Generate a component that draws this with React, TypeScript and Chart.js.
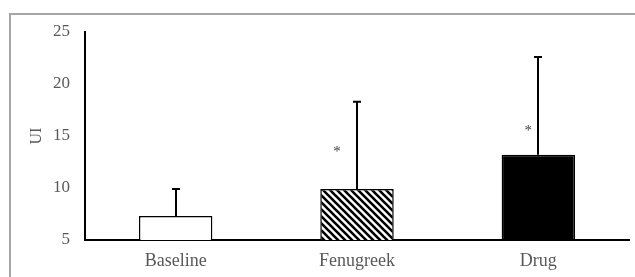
import React, { useEffect, useRef } from "react";
import { Chart, registerables } from "chart.js";

Chart.register(...registerables);

const categories = ["Baseline", "Fenugreek", "Drug"];
const means = [7.3, 9.9, 13.2];
const errors = [2.6, 8.4, 9.4];
const sigMarks = ["", "*", "*"];
const sigValues = [null, 13.6, 15.7];
const yTicks = [5, 10, 15, 20, 25];

function makeHatch(): CanvasPattern | string {
  const s = 7;
  const c = document.createElement("canvas");
  c.width = s;
  c.height = s;
  const g = c.getContext("2d");
  if (!g) return "#000";
  g.fillStyle = "#fff";
  g.fillRect(0, 0, s, s);
  g.strokeStyle = "#000";
  g.lineWidth = 2.6;
  g.beginPath();
  g.moveTo(-1, -1);
  g.lineTo(s + 1, s + 1);
  g.moveTo(-1, s - 1);
  g.lineTo(1, s + 1);
  g.moveTo(s - 1, -1);
  g.lineTo(s + 1, 1);
  g.stroke();
  return g.createPattern(c, "repeat") || "#000";
}

const framePlugin = {
  id: "frame",
  beforeDraw(chart: any) {
    const ctx = chart.ctx;
    ctx.save();
    ctx.strokeStyle = "#a6a6a6";
    ctx.lineWidth = 2;
    ctx.beginPath();
    ctx.moveTo(10, 277);
    ctx.lineTo(10, 14);
    ctx.lineTo(635, 14);
    ctx.stroke();
    ctx.restore();
  },
};

const errorPlugin = {
  id: "errbars",
  afterDatasetsDraw(chart: any) {
    const ctx = chart.ctx;
    const meta = chart.getDatasetMeta(0);
    const y = chart.scales.y;
    ctx.save();
    ctx.strokeStyle = "#000";
    ctx.lineWidth = 2;
    meta.data.forEach((bar: any, i: number) => {
      const top = y.getPixelForValue(means[i] + errors[i]);
      const x = Math.round(bar.x);
      ctx.beginPath();
      ctx.moveTo(x, bar.y);
      ctx.lineTo(x, top);
      ctx.moveTo(x - 4, top);
      ctx.lineTo(x + 4, top);
      ctx.stroke();
    });
    const offsets = [0, -20, -10];
    ctx.fillStyle = "#404040";
    ctx.font = "15px 'Liberation Serif', serif";
    ctx.textAlign = "center";
    ctx.textBaseline = "middle";
    meta.data.forEach((bar: any, i: number) => {
      const v = sigValues[i];
      if (!sigMarks[i] || v == null) return;
      ctx.fillText(sigMarks[i], bar.x + offsets[i], y.getPixelForValue(v) + 2);
    });
    ctx.restore();
  },
};

export default function App() {
  const ref = useRef<HTMLCanvasElement>(null);
  useEffect(() => {
    if (!ref.current) return;
    const hatch = makeHatch();
    const chart = new Chart(ref.current, {
      type: "bar",
      data: {
        labels: categories,
        datasets: [
          {
            data: means,
            base: 5,
            backgroundColor: ["#ffffff", hatch as any, "#000000"],
            borderColor: "#000000",
            borderWidth: 1.5,
            borderSkipped: "bottom",
            categoryPercentage: 1,
            barPercentage: 0.405,
          } as any,
        ],
      },
      options: {
        responsive: false,
        animation: false,
        layout: { padding: { left: 10, right: 6, top: 32, bottom: 0 } },
        plugins: { legend: { display: false }, tooltip: { enabled: false } },
        scales: {
          x: {
            z: 1,
            grid: { display: false, drawTicks: false },
            border: { display: true, color: "#000", width: 2 },
            ticks: {
              color: "#595959",
              font: { family: "'Liberation Serif', serif", size: 18 },
              padding: 10,
            },
            afterFit(scale: any) {
              scale.height = 37;
            },
          },
          y: {
            min: 5,
            max: 25,
            afterBuildTicks(scale: any) {
              scale.ticks = yTicks.map((v) => ({ value: v }));
            },
            grid: { display: false, drawTicks: false },
            border: { display: true, color: "#000", width: 2 },
            ticks: {
              color: "#595959",
              font: { family: "'Liberation Serif', serif", size: 17 },
              padding: 15,
            },
            title: {
              display: true,
              text: "UI",
              color: "#595959",
              font: { family: "'Liberation Serif', serif", size: 16 },
              padding: { top: 17, bottom: 0 },
            },
            afterFit(scale: any) {
              scale.width = 75;
            },
          },
        },
      },
      plugins: [framePlugin, errorPlugin],
    });
    return () => chart.destroy();
  }, []);
  return (
    <div style={{ position: "absolute", left: 0, top: 0, width: 635, height: 277, background: "#fff" }}>
      <canvas ref={ref} width={635} height={277} style={{ width: 635, height: 277, display: "block" }} />
    </div>
  );
}
